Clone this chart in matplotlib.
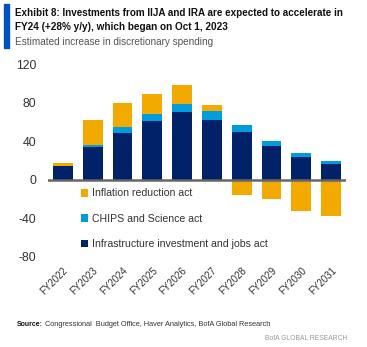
import matplotlib
matplotlib.use("Agg")
import matplotlib.pyplot as plt
from matplotlib.patches import Rectangle
import numpy as np

years = ["FY2022", "FY2023", "FY2024", "FY2025", "FY2026", "FY2027",
         "FY2028", "FY2029", "FY2030", "FY2031"]
infra = [14, 34, 49, 61, 70, 62, 50, 35, 24, 16]
chips = [0, 2, 6, 7.5, 9, 9.5, 7, 5, 4, 4]
ira = [3, 26, 25, 21, 19, 6, -16, -20, -32, -38]
yticks = [-80, -40, 0, 40, 80, 120]

C_IRA = "#F2A900"
C_CHIPS = "#009CDE"
C_INFRA = "#012169"

plt.rcParams['font.family'] = ['Liberation Sans', 'DejaVu Sans']

W, H = 367, 347
fig = plt.figure(figsize=(W / 100, H / 100), dpi=100)
renderer = fig.canvas.get_renderer()

def fx(px):
    return px / W

def fy(py):
    return 1 - py / H

def fit_text(x0, x1, ypx, s, base, **kw):
    t = fig.text(fx(x0), fy(ypx), s, fontsize=base, va="center", ha="left", **kw)
    wpx = t.get_window_extent(renderer).width
    t.set_fontsize(base * (x1 - x0) / wpx)
    return t

ax = fig.add_axes([fx(48), fy(256.7), fx(346 - 48), (256.7 - 64.3) / H])

x = np.arange(len(years))
w = 0.66
infra_a = np.array(infra, dtype=float)
chips_a = np.array(chips, dtype=float)
ira_a = np.array(ira, dtype=float)
ira_bottom = np.where(ira_a >= 0, infra_a + chips_a, 0)

b1 = ax.bar(x, infra_a, w, color=C_INFRA, label="Infrastructure investment and jobs act", zorder=2)
b2 = ax.bar(x, chips_a, w, bottom=infra_a, color=C_CHIPS, label="CHIPS and Science act", zorder=2)
b3 = ax.bar(x, ira_a, w, bottom=ira_bottom, color=C_IRA, label="Inflation reduction act", zorder=2)

ax.set_xlim(-0.5, 9.5)
ax.set_ylim(-80, 120)
ax.set_yticks(yticks)
ax.set_yticklabels([str(v) for v in yticks], fontsize=8.8, color="#333333")
ax.set_xticks(x)
ax.set_xticklabels(years, rotation=45, ha="right", rotation_mode="anchor",
                   fontsize=7, color="#333333")
for s in ax.spines.values():
    s.set_visible(False)
ax.tick_params(axis="both", length=0)
ax.tick_params(axis="y", pad=8.6)
ax.tick_params(axis="x", pad=6)
ax.axhline(0, color="#666666", lw=1.8, zorder=3)

ax_w = 346 - 48
ax_h = 256.7 - 64.3
leg = ax.legend(handles=[b3, b2, b1], loc="upper left",
                bbox_to_anchor=((81 - 48) / ax_w, 1 - (188.5 - 64.3) / ax_h),
                frameon=False, fontsize=7.6, handlelength=0.7, handleheight=0.7,
                handletextpad=0.35, labelspacing=1.44, borderaxespad=0, borderpad=0)
for t in leg.get_texts():
    t.set_color("#333333")

# title bar
fig.patches.append(Rectangle((fx(4), fy(48)), fx(5), (48 - 4) / H,
                             transform=fig.transFigure, color="#0052C2", zorder=5))
fit_text(15, 343, 13, "Exhibit 8: Investments from IIJA and IRA are expected to accelerate in",
         10, fontweight="bold", color="#111111")
fit_text(15, 229, 27.5, "FY24 (+28% y/y), which began on Oct 1, 2023",
         10, fontweight="bold", color="#111111")
fit_text(15, 213, 42, "Estimated increase in discretionary spending",
         10, color="#555555")

fit_text(17, 43, 325, "Source:", 7, fontweight="bold", color="#111111")
fit_text(45, 272, 325, "Congressional  Budget Office, Haver Analytics, BofA Global Research",
         7, color="#333333")
fit_text(265, 347, 339, "BofA GLOBAL RESEARCH", 7, color="#999999")

fig.savefig("out.png", dpi=100)
